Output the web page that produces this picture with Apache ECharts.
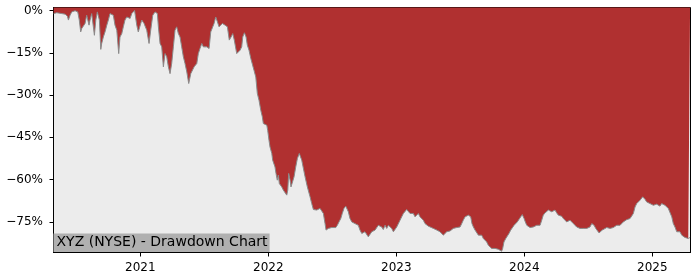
<!DOCTYPE html>
<html>
<head>
<meta charset="utf-8">
<script src="https://cdn.jsdelivr.net/npm/echarts@6/dist/echarts.min.js"></script>
<style>html,body{margin:0;padding:0;background:#fff}#c{width:700px;height:280px}</style>
</head>
<body>
<div id="c"></div>
<script>
// Dates as decimal years, drawdown in percent
const dates2020 = [2020.323,2020.347,2020.386,2020.412,2020.430,2020.438,2020.451,2020.464,2020.490,2020.503,
2020.511,2020.523,2020.534,2020.542,2020.555,2020.568,2020.581,2020.589,2020.599,2020.607,
2020.620,2020.633,2020.641,2020.652,2020.664,2020.672,2020.680,2020.691,2020.698,2020.711,
2020.724,2020.738,2020.750,2020.763,2020.777,2020.789,2020.802,2020.816,2020.831,2020.841,
2020.855,2020.867,2020.880,2020.894,2020.906,2020.920,2020.933,2020.945,2020.955,2020.972,
2020.984,2020.998];
const dd2020 = [-1.1,-0.8,-1.1,-1.3,-2.0,-3.4,-1.7,-0.5,-0.1,0,
-0.5,-3.4,-7.6,-6.4,-5.8,-4.6,-1.7,-1.1,-5.2,-3.4,
-1.1,-5.8,-8.8,-3.4,-0.5,-0.2,-3.4,-13.8,-11.7,-9.4,
-7.6,-5.2,-3.4,-1.1,-0.5,-1.7,-5.2,-7.0,-15.3,-9.4,
-8.2,-5.8,-3.4,-2.3,-1.7,-2.8,-1.1,-0.5,0,-5.2,
-7.6,-8.2];

const dates2021 = [2021.011,2021.029,2021.050,2021.068,2021.081,2021.097,2021.115,2021.133,2021.141,2021.154,
2021.167,2021.180,2021.193,2021.206,2021.219,2021.232,2021.245,2021.258,2021.271,2021.284,
2021.297,2021.310,2021.323,2021.336,2021.349,2021.363,2021.378,2021.394,2021.406,2021.420,
2021.441,2021.453,2021.466,2021.480,2021.492,2021.505,2021.519,2021.537,2021.550,2021.563,
2021.576,2021.589,2021.602,2021.615,2021.628,2021.641,2021.662,2021.680,2021.695,2021.709,
2021.722,2021.734,2021.753,2021.766,2021.779,2021.792,2021.800,2021.813,2021.826,2021.836,
2021.849,2021.863,2021.875,2021.888,2021.902,2021.914,2021.927,2021.941,2021.953,2021.961,
2021.974,2021.988,2021.995];
const dd2021 = [-3.4,-4.6,-7.0,-11.7,-7.0,-1.7,-0.5,-1.1,-5.8,-11.7,
-12.9,-20.0,-15.3,-16.4,-20.0,-22.4,-18.8,-12.9,-7.0,-5.8,
-8.2,-9.4,-12.9,-16.4,-18.8,-21.8,-25.9,-22.4,-21.8,-20.0,
-18.8,-15.3,-13.5,-11.7,-12.9,-12.3,-12.9,-13.5,-7.6,-7.0,
-4.6,-2.3,-4.0,-5.8,-5.2,-4.6,-5.2,-5.8,-10.5,-9.4,
-8.2,-10.5,-15.3,-14.7,-14.1,-12.9,-9.4,-7.9,-9.4,-12.3,
-14.1,-17.0,-17.6,-21.2,-23.6,-29.4,-31.8,-35.4,-37.7,-40.1,
-40.7,-40.7,-42.5];

const dates2022 = [2022.005,2022.013,2022.027,2022.034,2022.052,2022.060,2022.070,2022.078,2022.086,2022.097,
2022.105,2022.117,2022.130,2022.144,2022.152,2022.159,2022.170,2022.177,2022.188,2022.201,
2022.214,2022.227,2022.242,2022.261,2022.287,2022.305,2022.326,2022.339,2022.352,2022.365,
2022.378,2022.391,2022.404,2022.417,2022.430,2022.443,2022.451,2022.469,2022.482,2022.495,
2022.508,2022.527,2022.539,2022.552,2022.566,2022.578,2022.591,2022.605,2022.617,2022.625,
2022.638,2022.652,2022.664,2022.677,2022.691,2022.703,2022.716,2022.730,2022.742,2022.755,
2022.769,2022.781,2022.795,2022.808,2022.820,2022.834,2022.847,2022.859,2022.873,2022.886,
2022.898,2022.912,2022.925,2022.938,2022.951,2022.964,2022.977,2022.990];
const dd2022 = [-46.0,-48.4,-50.7,-53.1,-55.5,-57.8,-60.2,-58.4,-61.4,-62.0,
-62.6,-63.7,-63.1,-65.5,-63.7,-57.8,-60.2,-62.6,-63.1,-59.0,
-55.5,-52.5,-50.7,-53.1,-59.0,-62.6,-66.1,-68.5,-70.6,-71.1,
-70.8,-70.8,-70.2,-70.2,-72.0,-75.6,-77.9,-77.3,-76.8,-77.0,
-76.8,-77.0,-76.2,-75.0,-73.8,-72.0,-70.2,-69.4,-69.7,-71.4,
-73.8,-75.0,-75.0,-75.6,-76.2,-76.2,-77.9,-79.1,-79.7,-78.5,
-79.1,-80.3,-79.7,-78.5,-79.1,-77.9,-77.3,-76.2,-75.6,-76.8,
-77.7,-76.2,-77.3,-76.2,-75.8,-77.3,-78.5,-77.9];

const dates2023 = [2023.003,2023.016,2023.029,2023.042,2023.055,2023.068,2023.081,2023.094,2023.107,2023.120,
2023.133,2023.146,2023.159,2023.172,2023.185,2023.198,2023.211,2023.224,2023.238,2023.250,
2023.263,2023.289,2023.316,2023.341,2023.355,2023.367,2023.380,2023.394,2023.420,2023.445,
2023.472,2023.498,2023.511,2023.523,2023.537,2023.550,2023.563,2023.570,2023.581,2023.591,
2023.602,2023.615,2023.628,2023.641,2023.654,2023.667,2023.680,2023.693,2023.706,2023.719,
2023.732,2023.745,2023.758,2023.771,2023.784,2023.797,2023.810,2023.823,2023.831,2023.841,
2023.855,2023.867,2023.880,2023.894,2023.906,2023.920,2023.933,2023.945,2023.959,2023.972,
2023.984,2023.998];
const dd2023 = [-76.8,-76.2,-74.4,-73.2,-72.0,-71.4,-70.6,-71.1,-72.0,-72.6,
-72.0,-73.2,-73.0,-72.0,-73.2,-73.8,-74.4,-75.6,-76.2,-76.5,
-76.8,-77.3,-77.9,-78.5,-79.1,-79.7,-79.1,-78.5,-78.2,-77.3,
-77.0,-76.8,-75.6,-74.4,-73.2,-72.6,-72.6,-72.3,-73.2,-75.6,
-76.8,-77.9,-78.5,-79.7,-80.1,-79.7,-80.9,-81.5,-82.1,-83.3,
-83.9,-84.4,-84.7,-84.4,-84.8,-84.7,-85.0,-85.4,-84.4,-82.1,
-80.9,-80.3,-79.1,-77.9,-77.3,-76.2,-75.6,-75.0,-74.4,-73.2,
-72.4,-73.8];

const dates2024 = [2024.008,2024.019,2024.031,2024.045,2024.058,2024.070,2024.084,2024.097,2024.123,2024.136,
2024.148,2024.162,2024.175,2024.188,2024.201,2024.214,2024.227,2024.240,2024.253,2024.266,
2024.279,2024.292,2024.305,2024.318,2024.331,2024.344,2024.357,2024.370,2024.383,2024.396,
2024.409,2024.435,2024.461,2024.488,2024.513,2024.527,2024.534,2024.545,2024.558,2024.570,
2024.584,2024.597,2024.609,2024.623,2024.644,2024.656,2024.670,2024.683,2024.695,2024.709,
2024.722,2024.748,2024.761,2024.773,2024.787,2024.800,2024.813,2024.826,2024.839,2024.852,
2024.865,2024.878,2024.891,2024.904,2024.917,2024.925,2024.935,2024.943,2024.956,2024.969,
2024.982,2024.995];
const dd2024 = [-75.0,-76.2,-76.8,-77.0,-77.1,-76.8,-76.5,-76.2,-76.2,-74.4,
-72.6,-71.8,-71.4,-70.8,-71.1,-71.4,-70.8,-70.8,-71.8,-72.6,
-73.2,-73.0,-73.8,-74.4,-75.0,-75.0,-74.4,-74.4,-75.6,-76.2,
-76.8,-77.3,-77.3,-77.3,-76.8,-75.6,-75.0,-76.2,-77.3,-77.9,
-78.9,-78.5,-77.9,-77.3,-77.0,-77.0,-77.3,-77.9,-77.0,-76.5,
-76.2,-76.2,-75.8,-75.0,-74.4,-74.2,-74.2,-73.8,-74.2,-72.0,
-69.7,-68.5,-67.9,-67.3,-67.0,-66.1,-66.7,-67.0,-67.9,-68.2,
-68.5,-68.2];

const dates2025 = [2025.008,2025.021,2025.034,2025.047,2025.060,2025.073,2025.086,2025.099,2025.113,2025.125,
2025.138,2025.152,2025.164,2025.177,2025.191,2025.203,2025.216,2025.230,2025.242,2025.255,
2025.269,2025.281,2025.295];
const dd2025 = [-69.1,-69.4,-68.7,-68.5,-69.4,-68.5,-68.2,-69.1,-69.4,-70.2,
-70.6,-73.2,-75.6,-76.8,-78.5,-79.1,-78.5,-79.7,-80.3,-80.5,
-81.2,-80.9,-80.5];

const yearTicks = [2021, 2022, 2023, 2024, 2025];
const pctTicks = [0, -15, -30, -45, -60, -75];
const chartLabel = 'XYZ (NYSE) - Drawdown Chart';

const dates = [].concat(dates2020, dates2021, dates2022, dates2023, dates2024, dates2025);
const drawdown = [].concat(dd2020, dd2021, dd2022, dd2023, dd2024, dd2025);
const n = Math.min(dates.length, drawdown.length);
const seriesData = [];
for (let i = 0; i < n; i++) seriesData.push([dates[i], drawdown[i]]);

const FONT = 'DejaVu Sans';
const chart = echarts.init(document.getElementById('c'), null, {renderer: 'canvas'});
chart.setOption({
  animation: false,
  backgroundColor: '#ffffff',
  grid: {
    left: 53.5, top: 7.5, right: 9.5, bottom: 27.5,
    show: true, backgroundColor: '#ececec', borderColor: '#000', borderWidth: 1
  },
  title: {
    text: chartLabel,
    left: 53.5, top: 233.5,
    padding: [1, 2, 1, 3],
    backgroundColor: '#b0b0b0',
    textStyle: {fontFamily: FONT, fontSize: 14, fontWeight: 'normal', color: '#000', lineHeight: 16.5}
  },
  xAxis: {
    type: 'value',
    min: 2020.3215, max: 2025.2984,
    splitLine: {show: false},
    axisLine: {show: true, onZero: false, lineStyle: {color: '#000', width: 1}},
    axisTick: {show: true, length: 4, lineStyle: {color: '#000'}, customValues: yearTicks},
    axisLabel: {
      customValues: yearTicks, margin: 9,
      fontFamily: FONT, fontSize: 12, color: '#000',
      formatter: v => String(Math.round(v))
    }
  },
  yAxis: {
    type: 'value',
    min: -85.85, max: 1.06,
    splitLine: {show: false},
    axisLine: {show: true, onZero: false, lineStyle: {color: '#000', width: 1}},
    axisTick: {show: true, length: 4, lineStyle: {color: '#000'}, customValues: pctTicks},
    axisLabel: {
      customValues: pctTicks, margin: 10.5,
      fontFamily: FONT, fontSize: 12, color: '#000',
      formatter: v => (Math.round(v) === 0 ? '0%' : '\u2212' + Math.abs(Math.round(v)) + '%')
    }
  },
  series: [{
    type: 'line',
    data: seriesData,
    showSymbol: false,
    symbol: 'none',
    silent: true,
    lineStyle: {color: '#8a8a8a', width: 1},
    areaStyle: {color: '#b03030', opacity: 1, origin: 'end'},
    z: 1
  }]
});
</script>
</body>
</html>
